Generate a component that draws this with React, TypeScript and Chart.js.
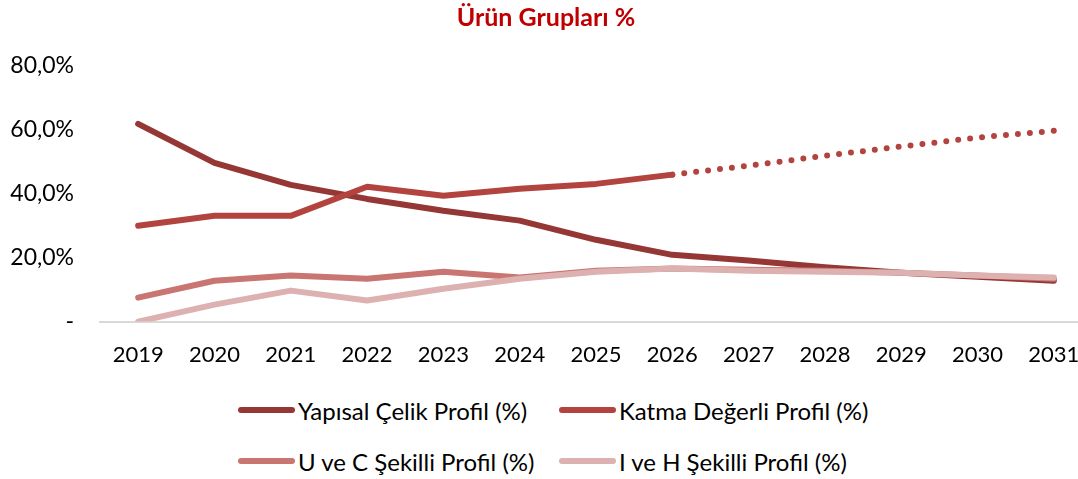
import React, { useEffect, useRef } from "react";
import { Chart, registerables } from "chart.js";

Chart.register(...registerables);

const years = ["2019", "2020", "2021", "2022", "2023", "2024", "2025", "2026", "2027", "2028", "2029", "2030", "2031"];
const yapisal = [61.9, 49.7, 42.8, 38.4, 34.7, 31.6, 25.6, 20.9, 19.1, 17.0, 15.3, 14.0, 12.8];
const katma = [30.0, 33.1, 33.1, 42.2, 39.4, 41.6, 43.1, 46.0, 48.8, 51.9, 54.8, 57.6, 59.7];
const uveC = [7.5, 12.8, 14.4, 13.4, 15.6, 13.8, 15.9, 16.6, 16.2, 15.9, 15.3, 14.4, 13.4];
const iveH = [0.0, 5.3, 9.7, 6.6, 10.3, 13.4, 15.6, 16.6, 15.9, 15.6, 15.3, 14.4, 13.8];
const seriesNames = ["Yapısal Çelik Profil (%)", "Katma Değerli Profil (%)", "U ve C Şekilli Profil (%)", "I ve H Şekilli Profil (%)"];
const seriesColors = ["#953735", "#b2433f", "#c97572", "#dcb1b0"];
const forecastStart = 7; // index of 2026: dotted after this
const yTicks = [0, 20, 40, 60, 80];

const FONT = "Lato, 'Open Sans', sans-serif";

export default function App() {
  const ref = useRef<HTMLCanvasElement | null>(null);

  useEffect(() => {
    if (!ref.current) return;
    const mk = (i: number, data: number[], order: number, extra: any = {}) => ({
      label: seriesNames[i],
      data,
      borderColor: seriesColors[i],
      backgroundColor: seriesColors[i],
      borderWidth: 6,
      borderCapStyle: "round",
      borderJoinStyle: "round",
      pointRadius: 0,
      pointHoverRadius: 0,
      tension: 0,
      fill: false,
      order,
      ...extra,
    });
    const chart = new Chart(ref.current, {
      type: "line",
      data: {
        labels: years,
        datasets: [
          mk(0, yapisal, 4),
          mk(1, katma, 3, {
            segment: {
              borderDash: (ctx: any) => (ctx.p0DataIndex >= forecastStart ? [0, 12] : undefined),
            },
          }),
          mk(2, uveC, 2),
          mk(3, iveH, 1),
        ],
      } as any,
      options: {
        responsive: false,
        animation: false,
        layout: { padding: { left: 0, right: 8, top: 0, bottom: 0 } },
        plugins: {
          legend: { display: false },
          tooltip: { enabled: false },
          title: {
            display: true,
            text: "Ürün Grupları %",
            color: "#c00000",
            font: { family: FONT, size: 25, weight: "bold" },
            padding: { top: 3, bottom: 33 },
          },
        },
        scales: {
          x: {
            offset: true,
            grid: { display: false, drawTicks: false },
            border: { display: true, color: "#d9d9d9", width: 2 },
            ticks: {
              color: "#000",
              font: { family: FONT, size: 22 },
              padding: 20,
              maxRotation: 0,
              autoSkip: false,
            },
          },
          y: {
            min: 0,
            max: 80,
            afterFit: (scale: any) => {
              scale.width = 100;
            },
            afterBuildTicks: (scale: any) => {
              scale.ticks = yTicks.map((v) => ({ value: v }));
            },
            grid: { display: false, drawTicks: false },
            border: { display: false },
            ticks: {
              color: "#000",
              font: { family: FONT, size: 23 },
              padding: 26,
              callback: (v: any) => (Number(v) === 0 ? "-" : Number(v).toFixed(1).replace(".", ",") + "%"),
            },
          },
        },
      } as any,
    });
    return () => chart.destroy();
  }, []);

  const legendRows = [
    [0, 1],
    [2, 3],
  ];
  const colLeft = [238, 559];
  const rowTop = [410, 461];

  return (
    <div style={{ position: "fixed", left: 0, top: 0, width: 1100, height: 479, background: "#fff" }}>
      <canvas ref={ref} width={1100} height={388} style={{ display: "block" }} />
      {legendRows.map((row, r) =>
        row.map((si, c) => (
          <div
            key={si}
            style={{
              position: "absolute",
              left: colLeft[c],
              top: rowTop[r] - 15,
              height: 30,
              display: "flex",
              alignItems: "center",
              fontFamily: FONT,
              fontSize: 24,
              color: "#000",
              whiteSpace: "nowrap",
            }}
          >
            <span
              style={{
                display: "inline-block",
                width: 57,
                height: 6,
                borderRadius: 3,
                background: seriesColors[si],
                marginRight: 3,
              }}
            />
            <span>{seriesNames[si]}</span>
          </div>
        ))
      )}
    </div>
  );
}
